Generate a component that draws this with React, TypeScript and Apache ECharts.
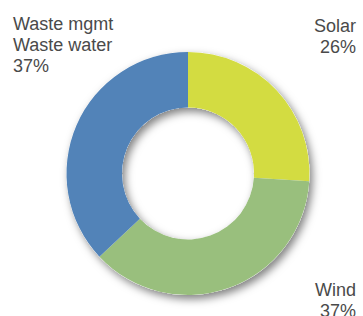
import React, { useEffect, useRef } from "react";
import * as echarts from "echarts";

const categories = ["Solar", "Wind", "Waste mgmt\nWaste water"];
const values = [26, 37, 37];
const colors = ["#d3dc41", "#99bf7d", "#5283b8"];

export default function App() {
  const ref = useRef<HTMLDivElement>(null);
  useEffect(() => {
    if (!ref.current) return;
    const chart = echarts.init(ref.current, undefined, { renderer: "svg" });
    const labelPos = [
      { x: 356, y: 15, align: "right" },
      { x: 356, y: 279, align: "right" },
      { x: 13, y: 13, align: "left" },
    ];
    chart.setOption({
      animation: false,
      backgroundColor: "#ffffff",
      series: [
        {
          type: "pie",
          silent: true,
          center: [188, 173.5],
          radius: [66, 121.5],
          label: { show: false },
          labelLine: { show: false },
          itemStyle: {
            color: "#ffffff",
            shadowBlur: 8,
            shadowOffsetX: 3,
            shadowOffsetY: 4,
            shadowColor: "rgba(0,0,0,0.5)",
          },
          data: [{ value: 1, name: "" }],
        },
        {
          type: "pie",
          center: [188, 173.5],
          radius: [66, 121.5],
          startAngle: 90,
          clockwise: true,
          data: categories.map((c, i) => ({
            name: c,
            value: values[i],
            itemStyle: { color: colors[i] },
          })),
          label: {
            show: true,
            position: "inside",
            formatter: "{b}\n{d}%",
            color: "#4a4a4a",
            fontFamily: "Liberation Sans, Arial, sans-serif",
            fontSize: 18,
            lineHeight: 21,
            overflow: "none",
          },
          labelLine: { show: false },
          labelLayout: (p: any) => {
            const l = labelPos[p.dataIndex];
            return { x: l.x, y: l.y, align: l.align, verticalAlign: "top" };
          },
        },
      ],
    });
    return () => chart.dispose();
  }, []);
  return (
    <div
      ref={ref}
      style={{ position: "fixed", left: 0, top: 0, width: 363, height: 316 }}
    />
  );
}
